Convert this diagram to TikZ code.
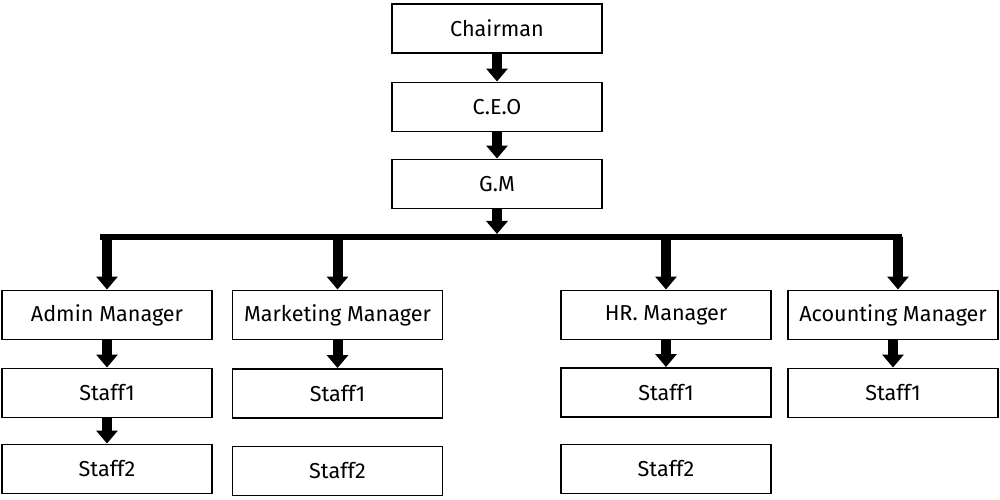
\documentclass[tikz,border=0pt]{standalone}
\usepackage{fontspec}
\setmainfont{Fira Sans}
\usetikzlibrary{positioning, calc, arrows.meta}
\tikzset{
  post/.style={draw, line width=1.1pt, minimum width=4.2cm, minimum height=0.98cm, inner sep=0pt, font=\fontsize{12.3}{14}\selectfont},
  link/.style={line width=0.2cm, -{Triangle[width=0.42cm,length=0.26cm]}},
  bus/.style={line width=0.13cm},
}
\begin{document}
\begin{tikzpicture}
\useasboundingbox (0,0) rectangle (20,-10);
% top of the chart
\node[post] (chair) at (9.94,-0.57) {Chairman};
\node[post] (ceo) at (9.94,-2.14) {C.E.O};
\node[post] (gm) at (9.94,-3.68) {G.M};

% managers
\node[post] (adm) at (2.14,-6.3) {Admin Manager};
\node[post] (mkt) at (6.75,-6.3) {Marketing Manager};
\node[post] (hr) at (13.32,-6.3) {HR. Manager};
\node[post] (acc) at (17.86,-6.3) {Acounting Manager};

% staff
\node[post] (adm1) at (2.14,-7.86) {Staff1};
\node[post] (adm2) at (2.14,-9.38) {Staff2};
\node[post] (mkt1) at (6.75,-7.87) {Staff1};
\node[post] (mkt2) at (6.75,-9.42) {Staff2};
\node[post] (hr1) at (13.32,-7.85) {Staff1};
\node[post] (hr2) at (13.32,-9.38) {Staff2};
\node[post] (acc1) at (17.86,-7.86) {Staff1};

% the bus
\coordinate (busL) at (2.0,-4.74);
\coordinate (busR) at (18.04,-4.74);
\draw[bus] (busL) -- (busR);

\draw[link] (chair) -- (ceo);
\draw[link] (ceo) -- (gm);
\draw[link] (gm) -- (gm |- 0,-4.68);
\foreach \m in {adm, mkt, hr}
  \draw[link] (\m.north |- busL) -- (\m.north);
\draw[link] ([xshift=0.1cm]acc.north |- busL) -- ([xshift=0.1cm]acc.north);
\draw[link] (adm) -- (adm1);
\draw[link] (adm1) -- (adm2);
\draw[link] (mkt) -- (mkt1);
\draw[link] (hr) -- (hr1);
\draw[link] (acc) -- (acc1);
\end{tikzpicture}
\end{document}
